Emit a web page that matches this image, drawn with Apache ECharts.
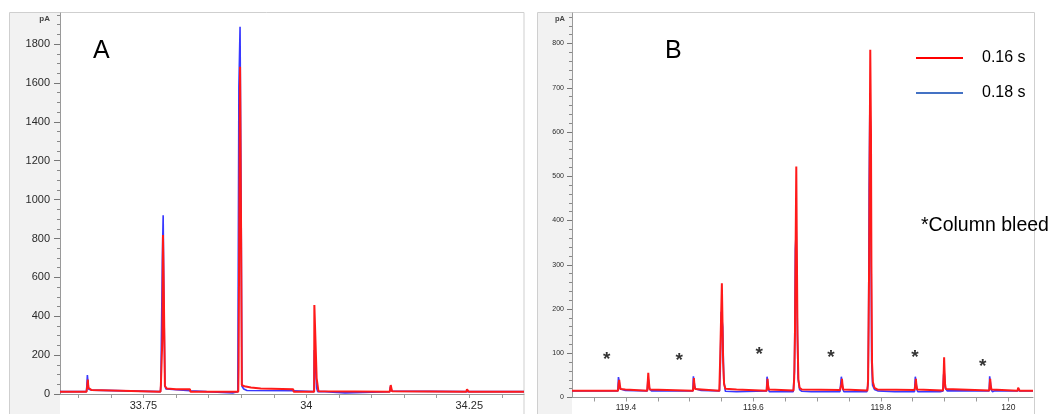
<!DOCTYPE html>
<html><head><meta charset="utf-8">
<script src="https://cdn.jsdelivr.net/npm/echarts@6/dist/echarts.min.js"></script>
<style>html,body{margin:0;padding:0;background:#fff}#c{width:1052px;height:414px}</style>
</head><body><div id="c"></div>
<script>
const seriesNames = ['0.16 s', '0.18 s'];

// Panel A: [retention time (min), signal (pA)]
const redA = [
 [33.622,12],
 [33.6628,12],[33.6638,40],[33.6647,74],[33.6655,32],[33.6668,24],[33.6705,20],[33.6712,12],
 [33.7762,12],[33.7768,45],[33.7785,48],[33.7792,300],[33.7800,818],[33.7815,470],[33.7830,40],[33.7860,28],[33.8000,25],[33.8214,24],[33.8222,12],
 [33.8955,12],[33.8960,130],[33.8983,1683],[33.9000,760],[33.9010,46],[33.9050,40],[33.9150,33],[33.9300,28],[33.9798,24],[33.9806,12],
 [34.0120,12],[34.0123,458],[34.0153,458],[34.0158,82],[34.0182,82],[34.0186,14],
 [34.1280,12],[34.1288,30],[34.1295,46],[34.1305,30],[34.1315,14],[34.1330,12],
 [34.2455,12],[34.2465,24],[34.2478,18],[34.2490,12],
 [34.334,12]
];
const blueA = [
 [33.622,12],
 [33.6625,12],[33.6632,42],[33.6640,98],[33.6650,60],[33.6660,25],[33.6700,20],[33.6715,12],
 [33.7762,12],[33.7768,50],[33.7783,48],[33.7790,680],[33.7803,920],[33.7815,470],[33.7830,45],[33.7845,26],[33.7870,18],[33.8214,17],[33.8222,12],
 [33.8470,12],[33.8474,6],[33.8880,6],[33.8885,12],
 [33.8948,12],[33.8951,226],[33.8965,1580],[33.8983,1889],[33.9002,800],[33.9012,40],[33.9040,26],[33.9090,18],[33.9798,17],[33.9806,12],
 [34.0118,12],[34.0122,226],[34.0133,190],[34.0158,30],[34.0175,12],
 [34.0285,12],[34.0288,6],[34.0594,6],[34.0598,12],
 [34.1282,12],[34.1290,38],[34.1300,35],[34.1312,15],[34.1330,12],
 [34.2457,12],[34.2467,22],[34.2480,12],
 [34.334,12]
];

// Panel B
const redB = [
 [119.3153,15],
 [119.3875,15],[119.3884,30],[119.3894,40],[119.3904,28],[119.3915,19],[119.3990,18],[119.3996,15],
 [119.4332,15],[119.4342,35],[119.4350,56],[119.4360,35],[119.4372,18],[119.4400,15],
 [119.5052,15],[119.5060,30],[119.5066,44],[119.5076,25],[119.5090,19],[119.5185,18],[119.5190,15],
 [119.5465,15],[119.5478,85],[119.5505,258],[119.5525,80],[119.5540,30],[119.5560,20],[119.5735,18],[119.5740,15],
 [119.6208,15],[119.6215,30],[119.6222,42],[119.6230,28],[119.6242,18],[119.6250,16],
 [119.6630,16],[119.6640,45],[119.6652,140],[119.6662,330],[119.6673,522],[119.6682,330],[119.6692,140],[119.6706,40],[119.6725,22],[119.6760,18],[119.7360,17],
 [119.7375,17],[119.7382,30],[119.7390,42],[119.7398,28],[119.7410,18],[119.7420,16],
 [119.7790,16],[119.7800,40],[119.7816,300],[119.7834,786],[119.7845,600],[119.7852,296],[119.7862,78],[119.7875,35],[119.7900,22],[119.7950,18],[119.8530,17],
 [119.8536,17],[119.8543,30],[119.8550,42],[119.8558,28],[119.8570,18],[119.8580,16],
 [119.8975,16],[119.8982,40],[119.8988,62],[119.8993,91],[119.9000,60],[119.9008,30],[119.9020,19],[119.9040,16],
 [119.9702,16],[119.9709,30],[119.9716,42],[119.9724,28],[119.9736,18],[119.9750,15],
 [120.0145,15],[120.0155,22],[120.0168,18],[120.0180,15],
 [120.0388,15]
];
const blueB = [
 [119.3153,15],
 [119.3872,15],[119.3882,46],[119.3892,38],[119.3905,20],[119.3990,16],[119.3996,15],
 [119.4335,15],[119.4345,45],[119.4355,38],[119.4368,20],[119.4400,15],
 [119.5050,15],[119.5058,48],[119.5070,35],[119.5085,20],[119.5180,16],[119.5186,15],
 [119.5468,15],[119.5480,60],[119.5495,194],[119.5518,160],[119.5535,40],[119.5560,14],[119.5735,13],
 [119.6206,15],[119.6214,47],[119.6225,35],[119.6238,18],[119.6250,13],[119.6625,13],
 [119.6632,15],[119.6645,60],[119.6658,335],[119.6672,379],[119.6686,200],[119.6700,45],[119.6725,18],[119.6760,14],[119.6910,13],[119.7358,13],
 [119.7373,15],[119.7380,47],[119.7392,35],[119.7405,18],[119.7420,13],[119.7780,13],
 [119.7792,15],[119.7800,30],[119.7808,163],[119.7816,473],[119.7828,666],[119.7840,598],[119.7855,85],[119.7870,28],[119.7900,18],[119.7950,15],[119.8220,13],[119.8528,13],
 [119.8534,15],[119.8541,47],[119.8553,35],[119.8566,18],[119.8580,13],[119.8930,13],
 [119.8977,15],[119.8985,50],[119.8992,60],[119.9000,48],[119.9010,22],[119.9040,15],
 [119.9700,15],[119.9708,48],[119.9719,35],[119.9732,18],[119.9750,13],[119.9780,13],[119.9790,15],
 [120.0147,15],[120.0157,21],[120.0170,15],
 [120.0388,15]
];
// Column bleed markers (*) in panel B
const bleedMarksB = [[119.3697,96],[119.4837,94],[119.6092,107],[119.7217,101],[119.8535,100],[119.9598,80]];

// Ticks and labels
const xTicksA = [33.65,33.70,33.75,33.80,33.85,33.90,33.95,34.00,34.05,34.10,34.15,34.20,34.25,34.30];
const xLabelsA = [33.75,34,34.25];
const yLabelsA = [0,200,400,600,800,1000,1200,1400,1600,1800];
const yMinorA = [50,100,150,250,300,350,450,500,550,650,700,750,850,900,950,1050,1100,1150,1250,1300,1350,1450,1500,1550,1650,1700,1750,1850,1900,1950];
const xTicksB = [119.35,119.40,119.45,119.50,119.55,119.60,119.65,119.70,119.75,119.80,119.85,119.90,119.95,120.00];
const xLabelsB = [119.4,119.6,119.8,120];
const yLabelsB = [0,100,200,300,400,500,600,700,800];
const yMinorB = [20,40,60,80,120,140,160,180,220,240,260,280,320,340,360,380,420,440,460,480,520,540,560,580,620,640,660,680,720,740,760,780,820,840,860];

const FONT = 'Liberation Sans';
const axisGray = '#9a9a9a';
const RED = '#ff1a1a', BLUE = '#3838ff';
const plain = v => String(v);

function xAxisCfg(grid, min, max, ticks, labels, fs, margin) {
  return {gridIndex: grid, type: 'value', min, max,
    axisLine: {show: true, onZero: false, lineStyle: {color: axisGray, width: 1}},
    axisTick: {show: true, customValues: ticks, length: 4, lineStyle: {color: axisGray}},
    axisLabel: {customValues: labels, formatter: plain, fontSize: fs, color: '#2a2a2a', margin, fontFamily: FONT},
    splitLine: {show: false}};
}
function yAxisMajor(grid, max, labels, fs, margin, len) {
  return {gridIndex: grid, type: 'value', min: 0, max, position: 'left',
    axisLine: {show: true, lineStyle: {color: axisGray, width: 1}},
    axisTick: {show: true, customValues: labels, length: len, lineStyle: {color: '#777'}},
    axisLabel: {customValues: labels, formatter: plain, fontSize: fs, color: '#2a2a2a', margin, fontFamily: FONT},
    splitLine: {show: false}};
}
function yAxisMinor(grid, max, ticks, len) {
  return {gridIndex: grid, type: 'value', min: 0, max, position: 'left', offset: 0,
    axisLine: {show: false},
    axisTick: {show: true, customValues: ticks, length: len, lineStyle: {color: '#888'}},
    axisLabel: {show: false}, splitLine: {show: false}};
}
function lineSeries(name, data, xi, yi, color, width, z) {
  return {name, type: 'line', data, xAxisIndex: xi, yAxisIndex: yi, showSymbol: false, symbol: 'none',
    lineStyle: {color, width}, itemStyle: {color}, z, animation: false, silent: true};
}

const chart = echarts.init(document.getElementById('c'), null, {renderer: 'canvas'});
chart.setOption({
  animation: false,
  backgroundColor: '#ffffff',
  textStyle: {fontFamily: FONT},
  grid: [
    {left: 60, top: 13, width: 464, height: 381},
    {left: 572, top: 13, width: 461, height: 384.5}
  ],
  xAxis: [
    xAxisCfg(0, 33.622, 34.334, xTicksA, xLabelsA, 11, 6),
    xAxisCfg(1, 119.3153, 120.0388, xTicksB, xLabelsB, 8.5, 6)
  ],
  yAxis: [
    yAxisMajor(0, 1960, yLabelsA, 11, 10, 6),
    yAxisMinor(0, 1960, yMinorA, 3),
    yAxisMajor(1, 869, yLabelsB, 7, 8, 5),
    yAxisMinor(1, 869, yMinorB, 3)
  ],
  legend: {
    orient: 'vertical', left: 911, top: 45, itemWidth: 47, itemHeight: 2, itemGap: 19,
    icon: 'rect', selectedMode: false,
    textStyle: {fontSize: 16, color: '#000', fontFamily: FONT, padding: [0, 0, 0, 14]},
    data: [
      {name: seriesNames[0], itemStyle: {color: '#ff0000'}},
      {name: seriesNames[1], itemStyle: {color: '#4472c4'}}
    ]
  },
  graphic: [
    {type: 'rect', z: -10, silent: true, shape: {x: 9.5, y: 12.5, width: 514.5, height: 420}, style: {fill: '#ffffff', stroke: '#cfcfcf', lineWidth: 1}},
    {type: 'rect', z: -9, silent: true, shape: {x: 10, y: 13, width: 50, height: 420}, style: {fill: '#f2f2f2'}},
    {type: 'rect', z: -10, silent: true, shape: {x: 537.5, y: 12.5, width: 497, height: 420}, style: {fill: '#ffffff', stroke: '#cfcfcf', lineWidth: 1}},
    {type: 'rect', z: -9, silent: true, shape: {x: 538, y: 13, width: 34, height: 420}, style: {fill: '#f2f2f2'}},
    {type: 'text', z: 5, silent: true, style: {x: 50, y: 19, text: 'pA', fontSize: 8, fontWeight: 'bold', fill: '#444', align: 'right', verticalAlign: 'middle', fontFamily: FONT}},
    {type: 'text', z: 5, silent: true, style: {x: 565, y: 19, text: 'pA', fontSize: 7.5, fontWeight: 'bold', fill: '#444', align: 'right', verticalAlign: 'middle', fontFamily: FONT}},
    {type: 'text', z: 5, silent: true, style: {x: 93, y: 51, text: 'A', fontSize: 25, fill: '#000', align: 'left', verticalAlign: 'middle', fontFamily: FONT}},
    {type: 'text', z: 5, silent: true, style: {x: 665, y: 51, text: 'B', fontSize: 25, fill: '#000', align: 'left', verticalAlign: 'middle', fontFamily: FONT}},
    {type: 'text', z: 5, silent: true, style: {x: 921, y: 226, text: '*Column bleed', fontSize: 19.5, fill: '#000', align: 'left', verticalAlign: 'middle', fontFamily: FONT}}
  ],
  series: [
    lineSeries(seriesNames[1], blueA, 0, 0, BLUE, 1.6, 2),
    lineSeries(seriesNames[0], redA, 0, 0, RED, 2, 3),
    lineSeries(seriesNames[1], blueB, 1, 2, BLUE, 1.6, 2),
    lineSeries(seriesNames[0], redB, 1, 2, RED, 2, 3),
    {type: 'scatter', name: 'bleed', data: bleedMarksB, xAxisIndex: 1, yAxisIndex: 2, symbol: 'circle', symbolSize: 1,
     itemStyle: {color: 'rgba(0,0,0,0)'}, silent: true, z: 4,
     label: {show: true, formatter: '*', position: 'inside', offset: [0, 5], fontSize: 19, fontWeight: 'bold', color: '#000', fontFamily: FONT}}
  ]
});
</script>
</body></html>
